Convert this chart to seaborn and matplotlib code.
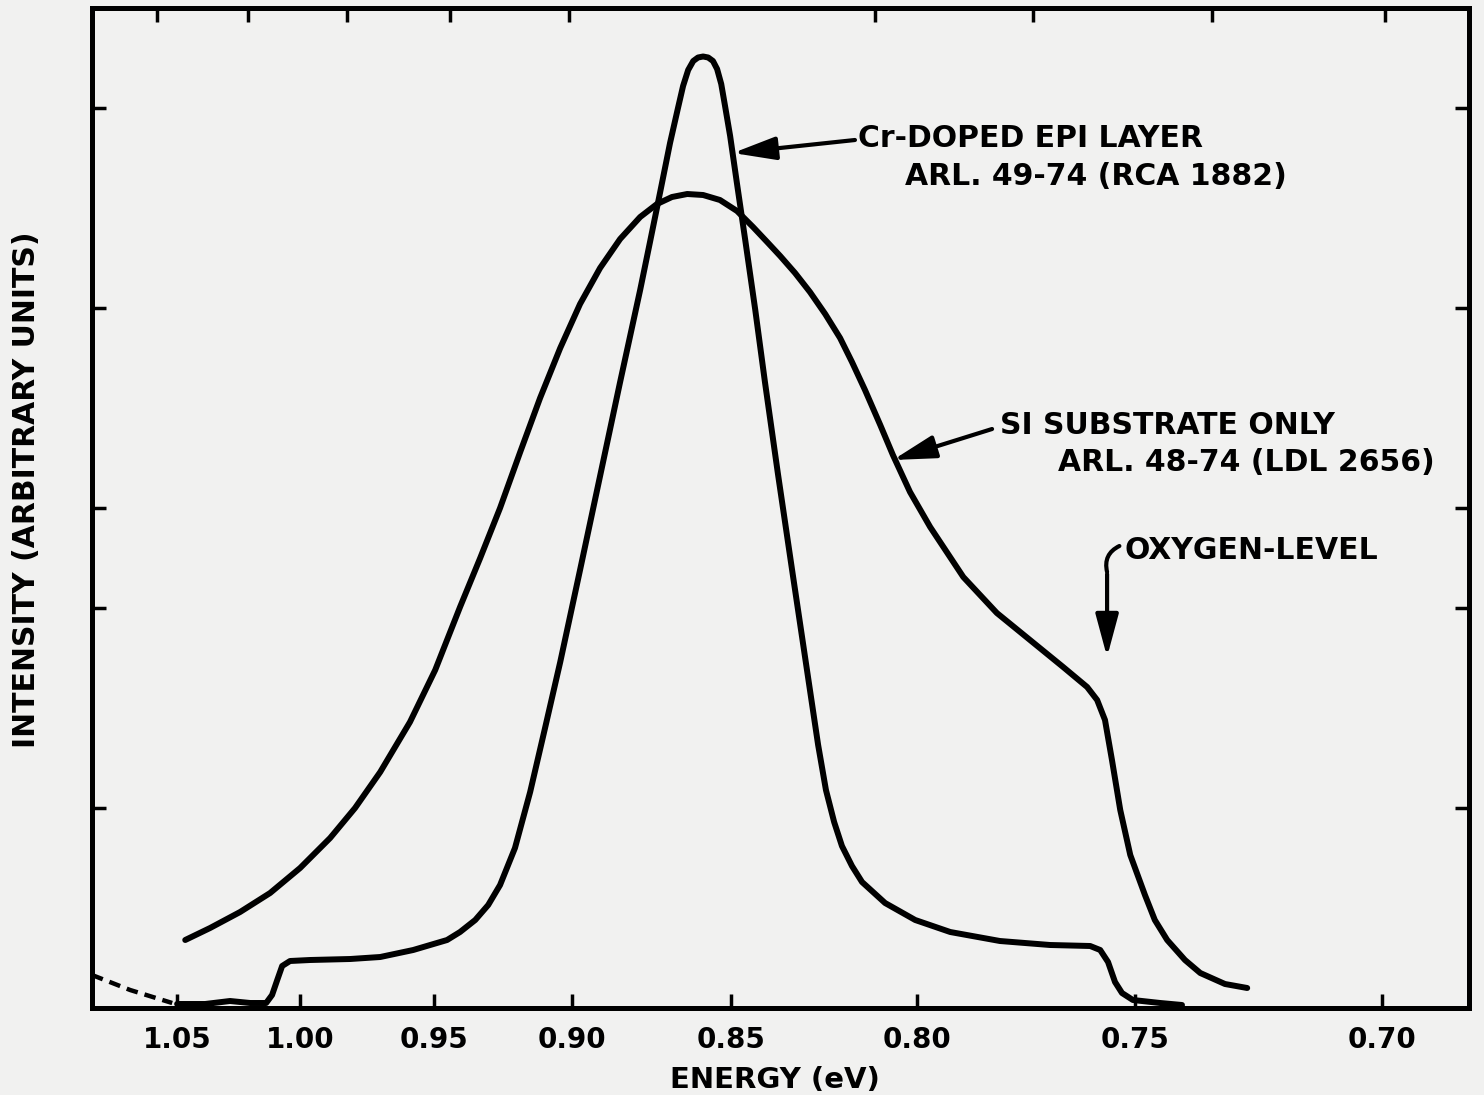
import numpy as np
import pandas as pd
import matplotlib
matplotlib.use("Agg")
import matplotlib.pyplot as plt
import seaborn as sns

# ---------------- data ----------------
cr_energy = [1.0500, 1.0386, 1.0285, 1.0203, 1.0138, 1.0114, 1.0093, 1.0073, 1.0041,
             0.9963, 0.9813, 0.9701, 0.9578, 0.9453, 0.9406, 0.9351, 0.9304, 0.9261,
             0.9207, 0.9152, 0.9098, 0.9043, 0.8975, 0.8912, 0.8849, 0.8786, 0.8755,
             0.8723, 0.8692, 0.8667, 0.8651, 0.8635, 0.8619, 0.8604, 0.8588, 0.8572,
             0.8557, 0.8544, 0.8531, 0.8519, 0.8503, 0.8484, 0.8462, 0.8435, 0.8409,
             0.8374, 0.8336, 0.8298, 0.8266, 0.8245, 0.8223, 0.8202, 0.8175, 0.8148,
             0.8086, 0.8005, 0.7924, 0.7810, 0.7695, 0.7603, 0.7580, 0.7562, 0.7546,
             0.7530, 0.7505, 0.7449, 0.7405]
cr_intensity = [0.02, 0.02, 0.035, 0.025, 0.025, 0.065, 0.14, 0.21, 0.235,
                0.24, 0.245, 0.255, 0.29, 0.34, 0.38, 0.44, 0.515, 0.615,
                0.80, 1.08, 1.40, 1.73, 2.19, 2.66, 3.13, 3.59, 3.83,
                4.08, 4.325, 4.50, 4.61, 4.69, 4.735, 4.7525, 4.7575, 4.7525,
                4.735, 4.695, 4.62, 4.51, 4.36, 4.12, 3.84, 3.49, 3.13,
                2.67, 2.19, 1.715, 1.315, 1.09, 0.93, 0.81, 0.71, 0.63,
                0.525, 0.44, 0.38, 0.335, 0.315, 0.31, 0.29, 0.23, 0.13,
                0.075, 0.04, 0.025, 0.015]

si_energy = [1.0467, 1.0366, 1.0244, 1.0122, 1.0000, 0.9888, 0.9795, 0.9701, 0.9590,
             0.9496, 0.9406, 0.9333, 0.9261, 0.9188, 0.9116, 0.9043, 0.8975, 0.8912,
             0.8849, 0.8786, 0.8733, 0.8686, 0.8638, 0.8588, 0.8535, 0.8484, 0.8441,
             0.8403, 0.8368, 0.8328, 0.8288, 0.8247, 0.8207, 0.8175, 0.8140, 0.8099,
             0.8065, 0.8019, 0.7970, 0.7894, 0.7817, 0.7741, 0.7665, 0.7610, 0.7587,
             0.7569, 0.7553, 0.7534, 0.7511, 0.7480, 0.7460, 0.7435, 0.7399, 0.7368,
             0.7318, 0.7273]
si_intensity = [0.34, 0.40, 0.48, 0.575, 0.70, 0.85, 1.00, 1.18, 1.43,
                1.69, 2.005, 2.25, 2.50, 2.78, 3.05, 3.30, 3.52, 3.70,
                3.845, 3.955, 4.02, 4.055, 4.07, 4.065, 4.04, 3.985, 3.905,
                3.83, 3.76, 3.675, 3.58, 3.47, 3.35, 3.23, 3.09, 2.915,
                2.765, 2.58, 2.405, 2.155, 1.975, 1.84, 1.705, 1.605, 1.54,
                1.44, 1.24, 0.99, 0.765, 0.565, 0.44, 0.34, 0.24, 0.175,
                0.12, 0.10]

tail_energy = [1.0846, 1.0691, 1.0520]
tail_intensity = [0.165, 0.09, 0.025]

x_tick_values = [1.05, 1.00, 0.95, 0.90, 0.85, 0.80, 0.75, 0.70]
x_tick_labels = ["1.05", "1.00", "0.95", "0.90", "0.85", "0.80", "0.75", "0.70"]
top_tick_values = [1.0581, 1.0211, 0.9825, 0.9442, 0.9011, 0.8113, 0.7734, 0.7344, 0.6994]
y_tick_values = [1.0, 2.0, 2.5, 3.5, 4.5]

# ---------------- axis calibration (hand-drawn energy scale) ----------------
E_ANCHOR = np.array([0.65, 0.70, 0.75, 0.80, 0.85, 0.90, 0.95, 1.00, 1.05, 1.10])
POS_ANCHOR = np.array([1629, 1382, 1135, 917, 731, 572, 434, 300, 177, 54], float)


def fwd(e):
    e = np.asarray(e, float)
    return -np.interp(e, E_ANCHOR, POS_ANCHOR)


def inv(t):
    t = np.asarray(t, float)
    return np.interp(-t, POS_ANCHOR[::-1], E_ANCHOR[::-1])


XLIM = (1.0846, 0.6824)
YLIM = (0.0, 5.0)

sns.set_theme(style="ticks")
plt.rcParams["font.family"] = ["DejaVu Sans"]
plt.rcParams["font.weight"] = "bold"
plt.rcParams["text.color"] = "black"
plt.rcParams["axes.labelcolor"] = "black"
plt.rcParams["xtick.color"] = "black"
plt.rcParams["ytick.color"] = "black"
BG = "#f1f1f0"

fig = plt.figure(figsize=(14.84, 10.95), dpi=100, facecolor=BG)
ax = fig.add_axes([0.0620, 0.07945, 0.92789, 0.91324])
ax.set_facecolor(BG)

cr_df = pd.DataFrame({"energy": cr_energy, "intensity": cr_intensity})
si_df = pd.DataFrame({"energy": si_energy, "intensity": si_intensity})
tail_df = pd.DataFrame({"energy": tail_energy, "intensity": tail_intensity})

line_kw = dict(color="black", lw=4.3, estimator=None, sort=False,
               solid_joinstyle="round", solid_capstyle="round")
sns.lineplot(data=cr_df, x="energy", y="intensity", ax=ax, **line_kw)
sns.lineplot(data=si_df, x="energy", y="intensity", ax=ax, **line_kw)
sns.lineplot(data=tail_df, x="energy", y="intensity", ax=ax, color="black",
             lw=3.2, estimator=None, sort=False, linestyle=(0, (2.6, 1.6)))

ax.set_xscale("function", functions=(fwd, inv))
ax.set_xlim(*XLIM)
ax.set_ylim(*YLIM)

ax.set_xticks(x_tick_values)
ax.set_xticklabels(x_tick_labels)
ax.set_yticks(y_tick_values)
ax.set_yticklabels([])
ax.minorticks_off()
ax.tick_params(axis="x", direction="in", length=10, width=2.5, pad=13,
               labelsize=20, labelcolor="black", bottom=True, top=False)
ax.tick_params(axis="y", direction="in", length=10, width=2.5,
               left=True, right=True)
for lab in ax.get_xticklabels():
    lab.set_fontweight("bold")

for s in ax.spines.values():
    s.set_linewidth(3.6)
    s.set_color("black")

# top ticks (different positions from the bottom ones)
ax2 = ax.twiny()
ax2.set_xscale("function", functions=(fwd, inv))
ax2.set_xlim(*XLIM)
ax2.set_xticks(top_tick_values)
ax2.set_xticklabels([])
ax2.minorticks_off()
ax2.tick_params(axis="x", direction="in", length=10, width=2.5,
                top=True, bottom=False, labeltop=False)
for s in ax2.spines.values():
    s.set_visible(False)

ax.set_xlabel("ENERGY (eV)", fontsize=21, fontweight="bold", color="black")
ax.set_ylabel("INTENSITY (ARBITRARY UNITS)", fontsize=21.5, fontweight="bold",
              color="black")
ax.xaxis.set_label_coords(0.496, -0.058)
ax.yaxis.set_label_coords(-0.037, 0.518)

txt = dict(fontsize=21.5, fontweight="bold", color="black", va="center", ha="left")
ax.text(0.8159, 4.35, "Cr-DOPED EPI LAYER", **txt)
ax.text(0.8032, 4.16, "ARL. 49-74 (RCA 1882)", **txt)
ax.text(0.7810, 2.915, "SI SUBSTRATE ONLY", **txt)
ax.text(0.7677, 2.73, "ARL. 48-74 (LDL 2656)", **txt)
ax.text(0.7525, 2.29, "OXYGEN-LEVEL", **txt)

arrow = dict(arrowstyle="-|>,head_length=1.3,head_width=0.35", color="black",
             lw=3, mutation_scale=20, shrinkA=0, shrinkB=0)
ax.annotate("", xy=(0.8495, 4.275), xytext=(0.8167, 4.34), arrowprops=arrow)
ax.annotate("", xy=(0.8065, 2.74), xytext=(0.7828, 2.895), arrowprops=arrow)
ax.annotate("", xy=(0.75642, 1.755), xytext=(0.75642, 2.17), arrowprops=arrow)
ax.annotate("", xy=(0.75642, 2.18), xytext=(0.7536, 2.31),
            arrowprops=dict(arrowstyle="-", color="black", lw=3,
                            connectionstyle="arc3,rad=0.4", shrinkA=0, shrinkB=0))

fig.savefig("out.png", dpi=100, facecolor=BG)
